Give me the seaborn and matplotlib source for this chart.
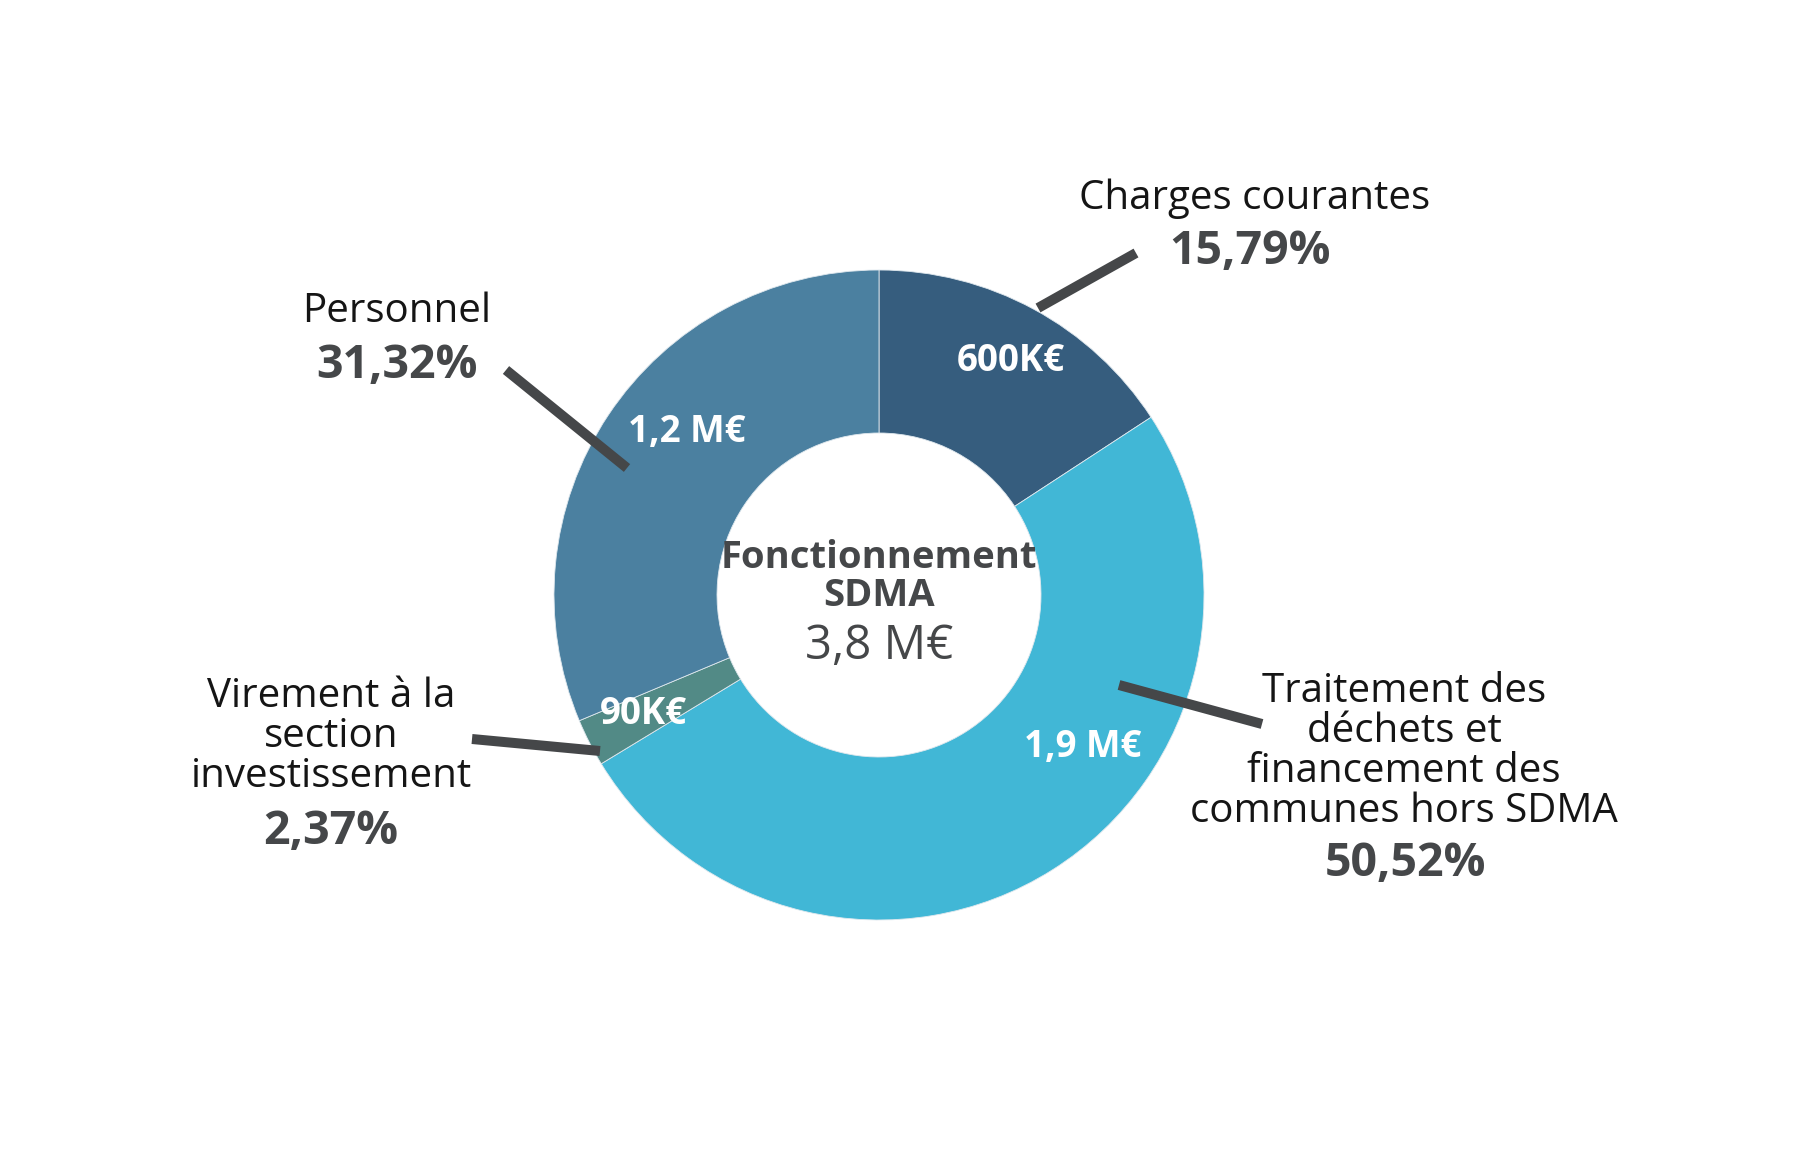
import seaborn as sns
import matplotlib.pyplot as plt

# donut data (clockwise from the top)
categories = ["Charges courantes", "Traitement des\ndéchets et\nfinancement des\ncommunes hors SDMA",
              "Virement à la\nsection\ninvestissement", "Personnel"]
shares = [15.79, 50.52, 2.37, 31.32]
share_labels = ["15,79%", "50,52%", "2,37%", "31,32%"]
amount_labels = ["600K€", "1,9 M€", "90K€", "1,2 M€"]
colors = ["#365d7e", "#41b7d6", "#528a86", "#4b80a0"]
center_title = "Fonctionnement\nSDMA"
center_total = "3,8 M€"

sns.set_theme(style="white")
plt.rcParams['font.family'] = ['Open Sans', 'DejaVu Sans']

W, H = 1794, 1172
fig = plt.figure(figsize=(W / 100, H / 100), dpi=100)
ax = fig.add_axes([0, 0, 1, 1])

cx, cy, r_out, r_in = 879, 595, 325, 162
ax.pie(shares, colors=colors, startangle=-90, counterclock=True,
       radius=r_out, center=(cx, cy),
       wedgeprops=dict(width=r_out - r_in, edgecolor="#dfe8ee", linewidth=0.6))
ax.set_xlim(0, W)
ax.set_ylim(H, 0)
ax.axis("off")

# label positions (pixels)
label_pos = [(1255, 199), (1404, 752), (331, 737), (397, 312)]
pct_pos = [(1250, 251), (1405, 864), (331, 832), (397, 366)]
amount_pos = [(1011, 361), (1083, 747), (643, 714), (687, 432)]
leaders = [((1038, 308), (1136, 253)), ((1119, 685), (1262, 724)),
           ((600, 751), (472, 739)), ((627, 468), (506, 370))]

for i in range(len(shares)):
    ax.text(*label_pos[i], categories[i], ha="center", va="center",
            fontsize=29, color="#151515", linespacing=0.98)
    ax.text(*pct_pos[i], share_labels[i], ha="center", va="center",
            fontsize=33.5, fontweight="bold", color="#454749")
    ax.text(*amount_pos[i], amount_labels[i], ha="center", va="center",
            fontsize=26.5, fontweight="bold", color="white")
    (x0, y0), (x1, y1) = leaders[i]
    ax.plot([x0, x1], [y0, y1], color="#454749", lw=7.2, solid_capstyle="butt")

ax.text(cx, 577, center_title, ha="center", va="center", fontsize=27.5,
        fontweight="bold", color="#454749", linespacing=1.0)
ax.text(cx, 646, center_total, ha="center", va="center", fontsize=34,
        color="#454749")

fig.savefig("out.png", dpi=100, facecolor="white")
